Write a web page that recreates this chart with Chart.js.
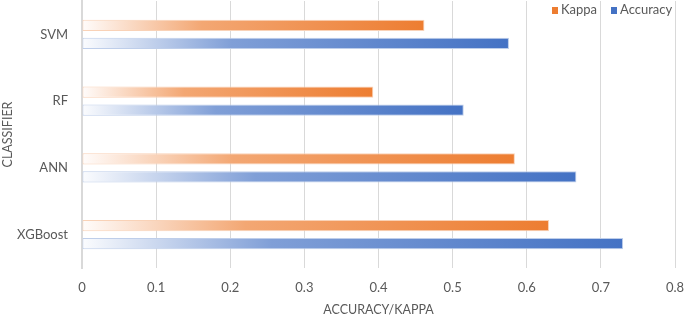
<!DOCTYPE html>
<html>
<head>
<meta charset="utf-8">
<script src="https://cdn.jsdelivr.net/npm/chart.js@4.4.1/dist/chart.umd.min.js"></script>
<style>
  html, body { margin: 0; padding: 0; background: #ffffff; }
  #wrap { position: relative; width: 685px; height: 317px; }
</style>
</head>
<body>
<div id="wrap"><canvas id="c" width="685" height="317"></canvas></div>
<script>
const categories = ['SVM', 'RF', 'ANN', 'XGBoost'];
const kappa = [0.462, 0.393, 0.584, 0.630];
const accuracy = [0.576, 0.515, 0.667, 0.730];
const seriesNames = ['Kappa', 'Accuracy'];
const xTicks = [0, 0.1, 0.2, 0.3, 0.4, 0.5, 0.6, 0.7, 0.8];
const xTitle = 'ACCURACY/KAPPA';
const yTitle = 'CLASSIFIER';

const ORANGE = [237, 125, 49];
const BLUE = [68, 114, 196];
const FONT = 'Lato';
const TEXT = '#595959';

function mix(rgb, t) {
  const c = rgb.map(v => Math.round(255 - t * (255 - v)));
  return 'rgb(' + c.join(',') + ')';
}

function gradFill(rgb) {
  return function (ctx) {
    const chart = ctx.chart;
    const xs = chart.scales && chart.scales.x;
    if (!xs || !chart.chartArea || ctx.type !== 'data') return mix(rgb, 1);
    const v = ctx.raw;
    const x0 = xs.getPixelForValue(0);
    const x1 = xs.getPixelForValue(v);
    if (!isFinite(x0) || !isFinite(x1) || x1 - x0 < 1) return mix(rgb, 1);
    const g = chart.ctx.createLinearGradient(x0, 0, x1, 0);
    g.addColorStop(0, mix(rgb, 0.02));
    g.addColorStop(0.35, mix(rgb, 0.68));
    g.addColorStop(1, mix(rgb, 1));
    return g;
  };
}

const legendPlugin = {
  id: 'cornerLegend',
  afterDraw(chart) {
    const c = chart.ctx;
    c.save();
    c.font = '13px ' + FONT;
    c.textBaseline = 'alphabetic';
    const items = [
      { label: seriesNames[0], rgb: ORANGE, x: 552 },
      { label: seriesNames[1], rgb: BLUE, x: 611 }
    ];
    items.forEach(it => {
      c.fillStyle = mix(it.rgb, 1);
      c.fillRect(it.x, 7, 6, 7);
      c.fillStyle = TEXT;
      c.fillText(it.label, it.x + 9, 14);
    });
    c.restore();
  }
};

new Chart(document.getElementById('c'), {
  type: 'bar',
  data: {
    labels: categories,
    datasets: [
      {
        label: seriesNames[0],
        data: kappa,
        backgroundColor: gradFill(ORANGE),
        borderColor: mix(ORANGE, 0.35),
        borderWidth: 1,
        borderSkipped: false,
        barPercentage: 0.63,
        categoryPercentage: 0.539
      },
      {
        label: seriesNames[1],
        data: accuracy,
        backgroundColor: gradFill(BLUE),
        borderColor: mix(BLUE, 0.35),
        borderWidth: 1,
        borderSkipped: false,
        barPercentage: 0.63,
        categoryPercentage: 0.539
      }
    ]
  },
  options: {
    indexAxis: 'y',
    responsive: false,
    animation: false,
    devicePixelRatio: 1,
    layout: { padding: { top: 1, right: 10, bottom: 0, left: 0 } },
    plugins: {
      legend: { display: false },
      tooltip: { enabled: false }
    },
    scales: {
      x: {
        type: 'linear',
        min: 0,
        max: 0.8,
        afterBuildTicks(scale) { scale.ticks = xTicks.map(v => ({ value: v })); },
        afterFit(scale) { scale.height = 49; scale.paddingLeft = 0; scale.paddingRight = 0; },
        ticks: {
          color: TEXT,
          font: { family: FONT, size: 13 },
          padding: 12,
          maxRotation: 0,
          callback: v => String(v)
        },
        grid: { color: '#d9d9d9', lineWidth: 1, drawTicks: false },
        border: { display: false },
        title: {
          display: true,
          text: xTitle,
          color: TEXT,
          font: { family: FONT, size: 12.5 },
          padding: { top: 4, bottom: 0 }
        }
      },
      y: {
        afterFit(scale) { scale.width = 82; scale.paddingTop = 0; scale.paddingBottom = 0; },
        ticks: {
          color: TEXT,
          font: { family: FONT, size: 13 },
          padding: 14
        },
        grid: { display: false, drawTicks: false },
        border: { display: true, color: '#d9d9d9', width: 2 },
        title: {
          display: true,
          text: yTitle,
          color: TEXT,
          font: { family: FONT, size: 12.5 },
          padding: { top: 0, bottom: 0 }
        }
      }
    }
  },
  plugins: [legendPlugin]
});
</script>
</body>
</html>
